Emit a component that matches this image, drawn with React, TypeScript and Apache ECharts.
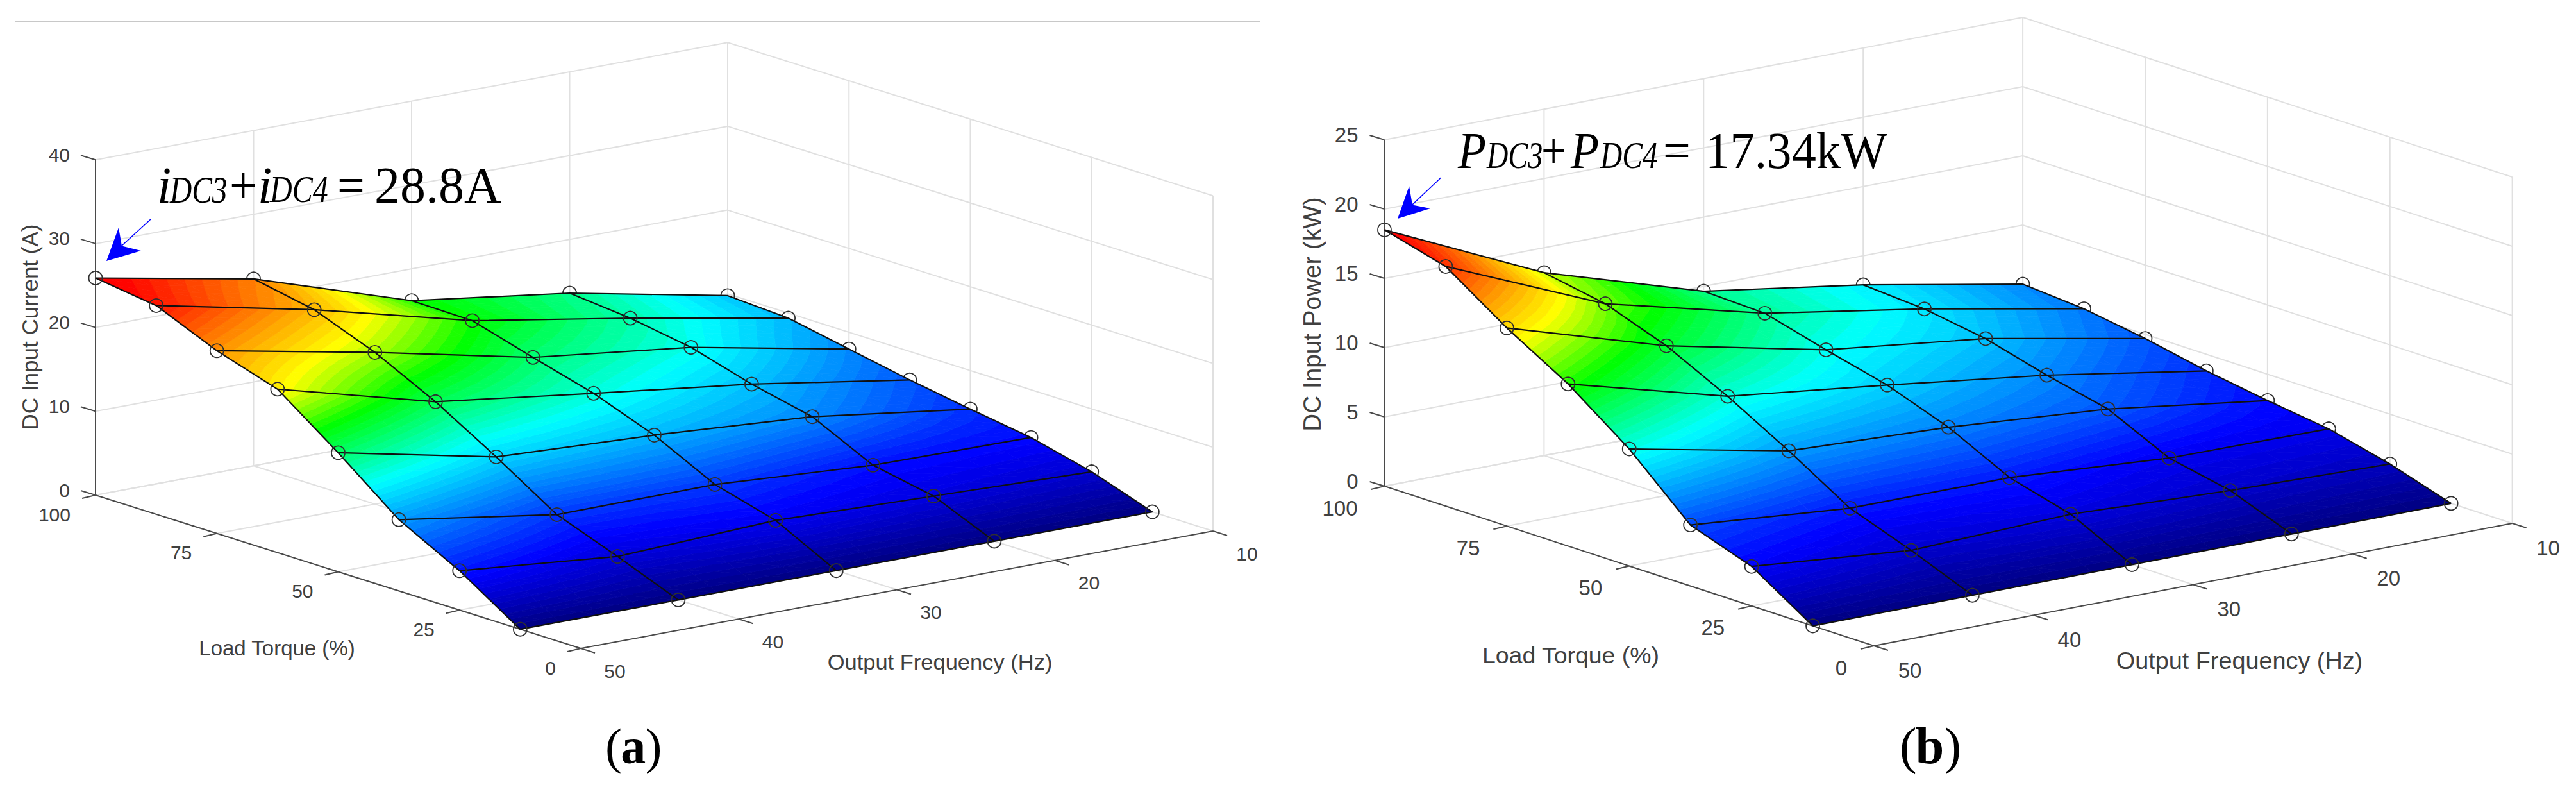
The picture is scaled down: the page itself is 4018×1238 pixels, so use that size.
import React, { useEffect, useRef } from "react";
import * as echarts from "echarts";

const W = 4018;
const H = 1238;

// ---- data ----
const frequencies = [50, 40, 30, 20, 10];
const torques = [100, 87.5, 75, 62.5, 50, 37.5, 25, 12.5];

const currentRows = [
  [25.9, 22.3, 16.2, 13.6, 9.8],
  [24.9, 20.9, 16.1, 12.9, 9.4],
  [21.8, 18.1, 14.0, 11.7, 8.0],
  [19.5, 14.5, 12.0, 9.6, 6.6],
  [14.2, 10.2, 9.3, 8.0, 5.4],
  [8.5, 5.6, 5.7, 4.5, 4.3],
  [4.7, 2.9, 3.7, 3.1, 2.5],
  [0, 0, 0, 0, 0],
];
const powerRows = [
  [18.5, 13.2, 9.65, 7.9, 5.74],
  [17.3, 12.4, 9.5, 7.6, 5.4],
  [14.3, 10.8, 8.3, 6.9, 4.7],
  [11.7, 8.6, 7.2, 5.7, 3.8],
  [8.45, 6.1, 5.6, 4.7, 3.1],
  [4.4, 3.4, 3.4, 2.6, 2.5],
  [2.85, 1.8, 2.2, 1.7, 1.4],
  [0, 0, 0, 0, 0],
];
const currentTicks = [0, 10, 20, 30, 40];
const powerTicks = [0, 5, 10, 15, 20, 25];
const freqTicks = [50, 40, 30, 20, 10];
const torqueTicks = [100, 75, 50, 25, 0];

// ---- layout of the two projected boxes ----
const panels = [
  {
    rows: currentRows,
    zTicks: currentTicks,
    zMax: 40,
    colorMax: 25.9,
    origin: [149, 772],
    fVec: [24.65, -4.575],
    tVec: [7.57, 2.39],
    zPer: 13.07,
    zTitle: "DC Input Current (A)",
    zTitlePos: [46, 510],
    zTitleSize: 35,
    tTitle: "Load Torque (%)",
    tTitlePos: [432, 1010],
    tTitleSize: 33,
    tTitleScale: 1.0,
    fTitle: "Output Frequency (Hz)",
    fTitlePos: [1466, 1032],
    fTitleSize: 33,
    fTitleScale: 1.045,
    tickSize: 30,
    zLabelOff: [-40, -8],
    tLabelOff: [-39, 30],
    fLabelOff: [53, 35],
    arrow: { from: [236, 341], to: [190, 383], head: [[166, 407], [185, 355], [190, 383.5], [220, 391]] },
    formula: [
      { s: "i", x: 245, size: 80, it: true, sx: 1 },
      { s: "DC3", x: 265, size: 60, it: true, sx: 0.79 },
      { s: "+", x: 358, size: 80, it: false, sx: 0.95 },
      { s: "i", x: 402, size: 80, it: true, sx: 1 },
      { s: "DC4", x: 421, size: 60, it: true, sx: 0.8 },
      { s: "=", x: 526, size: 80, it: false, sx: 0.95 },
      { s: "28.8A", x: 584, size: 80, it: false, sx: 1 },
    ],
    formulaBase: 316,
    caption: { x: 944, letter: "a", size: 78 },
  },
  {
    rows: powerRows,
    zTicks: powerTicks,
    zMax: 25,
    colorMax: 18.5,
    origin: [2159.5, 758],
    fVec: [24.89, -4.775],
    tVec: [7.635, 2.49],
    zPer: 21.6,
    zTitle: "DC Input Power (kW)",
    zTitlePos: [2046, 490],
    zTitleSize: 38.7,
    tTitle: "Load Torque (%)",
    tTitlePos: [2450, 1022],
    tTitleSize: 35,
    tTitleScale: 1.07,
    fTitle: "Output Frequency (Hz)",
    fTitlePos: [3493, 1031],
    fTitleSize: 36,
    fTitleScale: 1.05,
    tickSize: 33,
    zLabelOff: [-41, -8],
    tLabelOff: [-42, 34],
    fLabelOff: [56, 38],
    arrow: { from: [2247.5, 277], to: [2203, 319], head: [[2180, 341], [2198, 290], [2203, 319.5], [2231, 325]] },
    formula: [
      { s: "P", x: 2274, size: 80, it: true, sx: 0.9 },
      { s: "DC3", x: 2319, size: 60, it: true, sx: 0.77 },
      { s: "+", x: 2404, size: 80, it: false, sx: 0.85 },
      { s: "P", x: 2450, size: 80, it: true, sx: 0.9 },
      { s: "DC4", x: 2496, size: 60, it: true, sx: 0.79 },
      { s: "=", x: 2594, size: 80, it: false, sx: 0.95 },
      { s: "17.34kW", x: 2660, size: 80, it: false, sx: 0.96 },
    ],
    formulaBase: 262,
    caption: { x: 2963, letter: "b", size: 80 },
  },
];

const COLOR_LEVELS = 64;
const CELL_STEPS = 4;
const SANS = '"Liberation Sans", Arial, sans-serif';
const SERIF = '"Liberation Serif", "Times New Roman", serif';
const GRID_COLOR = "#e0e0e0";
const AXIS_COLOR = "#4a4a4a";
const TEXT_COLOR = "#404040";

// saturated rainbow seen on the surface: navy, blue, cyan, green, yellow, red
const rainbowStops: [number, number, number, number][] = [
  [0, 0, 0, 128],
  [0.16, 0, 0, 255],
  [0.44, 0, 255, 255],
  [0.62, 0, 255, 0],
  [0.74, 255, 255, 0],
  [0.98, 255, 0, 0],
  [1, 255, 0, 0],
];
function rainbow(t: number) {
  const v = Math.max(0, Math.min(1, t));
  for (let i = 1; i < rainbowStops.length; i++) {
    const a = rainbowStops[i - 1];
    const b = rainbowStops[i];
    if (v <= b[0]) {
      const k = (v - a[0]) / (b[0] - a[0]);
      return `rgb(${Math.round(a[1] + (b[1] - a[1]) * k)},${Math.round(a[2] + (b[2] - a[2]) * k)},${Math.round(a[3] + (b[3] - a[3]) * k)})`;
    }
  }
  return "rgb(255,0,0)";
}

type Panel = (typeof panels)[number];

function projector(p: Panel, api: any) {
  return (f: number, t: number, z: number) => {
    const dF = 50 - f;
    const dT = 100 - t;
    return api.coord([
      p.origin[0] + dF * p.fVec[0] + dT * p.tVec[0],
      p.origin[1] + dF * p.fVec[1] + dT * p.tVec[1] - z * p.zPer,
    ]);
  };
}

function line(a: number[], b: number[], stroke: string, lineWidth: number) {
  return { type: "line", shape: { x1: a[0], y1: a[1], x2: b[0], y2: b[1] }, style: { stroke, lineWidth } };
}

function text(s: string, x: number, y: number, font: string, fill: string, align: string, extra: any = {}) {
  return {
    type: "text",
    x,
    y,
    ...extra,
    style: { text: s, font, fill, align, verticalAlign: "middle", textAlign: align, textVerticalAlign: "middle" },
  };
}

// clip a polygon [x, y, z] to z >= lo and z <= hi
function clipBand(poly: number[][], lo: number, hi: number) {
  const clip = (pts: number[][], level: number, keepAbove: boolean) => {
    const out: number[][] = [];
    for (let i = 0; i < pts.length; i++) {
      const a = pts[i];
      const b = pts[(i + 1) % pts.length];
      const ain = keepAbove ? a[2] >= level : a[2] <= level;
      const bin = keepAbove ? b[2] >= level : b[2] <= level;
      if (ain) out.push(a);
      if (ain !== bin) {
        const k = (level - a[2]) / (b[2] - a[2]);
        out.push([a[0] + (b[0] - a[0]) * k, a[1] + (b[1] - a[1]) * k, level]);
      }
    }
    return out;
  };
  const first = clip(poly, lo, true);
  return first.length ? clip(first, hi, false) : first;
}

function wallSeries(p: Panel) {
  return {
    type: "custom",
    silent: true,
    data: [[0, 0]],
    renderItem: (_: any, api: any) => {
      const P = projector(p, api);
      const c: any[] = [];
      // back wall (torque = 100) and side wall (frequency = 10), floor
      for (const z of p.zTicks) {
        c.push(line(P(50, 100, z), P(10, 100, z), GRID_COLOR, 2));
        c.push(line(P(10, 100, z), P(10, 0, z), GRID_COLOR, 2));
      }
      for (const f of freqTicks) {
        if (f !== 50) c.push(line(P(f, 100, 0), P(f, 100, p.zMax), GRID_COLOR, 2));
        if (f !== 10) c.push(line(P(f, 100, 0), P(f, 0, 0), GRID_COLOR, 2));
      }
      for (const t of torqueTicks) {
        if (t !== 100) c.push(line(P(10, t, 0), P(10, t, p.zMax), GRID_COLOR, 2));
        if (t !== 0) c.push(line(P(50, t, 0), P(10, t, 0), GRID_COLOR, 2));
      }
      // axes
      c.push(line(P(50, 100, 0), P(50, 100, p.zMax), AXIS_COLOR, 2));
      c.push(line(P(50, 100, 0), P(50, 0, 0), AXIS_COLOR, 2));
      c.push(line(P(50, 0, 0), P(10, 0, 0), AXIS_COLOR, 2));
      const tickFont = `${p.tickSize}px ${SANS}`;
      for (const z of p.zTicks) {
        const a = P(50, 100, z);
        c.push(line(a, [a[0] - 23, a[1] - 7], AXIS_COLOR, 2));
        c.push(text(String(z), a[0] + p.zLabelOff[0], a[1] + p.zLabelOff[1], tickFont, TEXT_COLOR, "right"));
      }
      for (const t of torqueTicks) {
        const a = P(50, t, 0);
        c.push(line(a, [a[0] - 21, a[1] + 5], AXIS_COLOR, 2));
        c.push(text(String(t), a[0] + p.tLabelOff[0], a[1] + p.tLabelOff[1], tickFont, TEXT_COLOR, "right"));
      }
      for (const f of freqTicks) {
        const a = P(f, 0, 0);
        c.push(line(a, [a[0] + 22, a[1] + 7], AXIS_COLOR, 2));
        c.push(text(String(f), a[0] + p.fLabelOff[0], a[1] + p.fLabelOff[1], tickFont, TEXT_COLOR, "center"));
      }
      // axis titles
      c.push(text(p.zTitle, p.zTitlePos[0], p.zTitlePos[1], `${p.zTitleSize}px ${SANS}`, TEXT_COLOR, "center", { rotation: Math.PI / 2 }));
      c.push(text(p.tTitle, p.tTitlePos[0], p.tTitlePos[1], `${p.tTitleSize}px ${SANS}`, TEXT_COLOR, "center", { scaleX: p.tTitleScale }));
      c.push(text(p.fTitle, p.fTitlePos[0], p.fTitlePos[1], `${p.fTitleSize}px ${SANS}`, TEXT_COLOR, "center", { scaleX: p.fTitleScale }));
      return { type: "group", children: c };
    },
  };
}

function surfaceSeries(p: Panel) {
  const cells: number[][] = [];
  for (let i = 0; i < torques.length - 1; i++) {
    for (let j = 0; j < frequencies.length - 1; j++) cells.push([i, j]);
  }
  return {
    type: "custom",
    silent: true,
    data: cells,
    renderItem: (_: any, api: any) => {
      const P = projector(p, api);
      const i = api.value(0);
      const j = api.value(1);
      const z00 = p.rows[i][j];
      const z01 = p.rows[i][j + 1];
      const z10 = p.rows[i + 1][j];
      const z11 = p.rows[i + 1][j + 1];
      const at = (u: number, v: number) => {
        const z = (1 - u) * (1 - v) * z00 + (1 - u) * v * z01 + u * (1 - v) * z10 + u * v * z11;
        const f = frequencies[j] + (frequencies[j + 1] - frequencies[j]) * v;
        const t = torques[i] + (torques[i + 1] - torques[i]) * u;
        const q = P(f, t, z);
        return [q[0], q[1], z];
      };
      const step = p.colorMax / COLOR_LEVELS;
      const c: any[] = [];
      const addTri = (tri: number[][]) => {
        const zs = tri.map((q) => q[2]);
        const lo = Math.floor(Math.min(...zs) / step);
        const hi = Math.ceil(Math.max(...zs) / step);
        for (let k = lo; k < Math.max(hi, lo + 1); k++) {
          const poly = clipBand(tri, k * step, (k + 1) * step);
          if (poly.length < 3) continue;
          const col = rainbow((k + 0.5) / COLOR_LEVELS);
          c.push({
            type: "polygon",
            shape: { points: poly.map((q) => [q[0], q[1]]) },
            style: { fill: col, stroke: col, lineWidth: 0.8 },
          });
        }
      };
      for (let a = 0; a < CELL_STEPS; a++) {
        for (let b = 0; b < CELL_STEPS; b++) {
          const n = CELL_STEPS;
          const q00 = at(a / n, b / n);
          const q01 = at(a / n, (b + 1) / n);
          const q10 = at((a + 1) / n, b / n);
          const q11 = at((a + 1) / n, (b + 1) / n);
          addTri([q00, q01, q11]);
          addTri([q00, q11, q10]);
        }
      }
      return { type: "group", children: c };
    },
  };
}

function meshSeries(p: Panel) {
  return {
    type: "custom",
    silent: true,
    data: [[0, 0]],
    renderItem: (_: any, api: any) => {
      const P = projector(p, api);
      const c: any[] = [];
      const style = { stroke: "#101010", lineWidth: 2.2, fill: "none" };
      torques.forEach((t, i) => {
        c.push({ type: "polyline", shape: { points: frequencies.map((f, j) => P(f, t, p.rows[i][j])) }, style });
      });
      frequencies.forEach((f, j) => {
        c.push({ type: "polyline", shape: { points: torques.map((t, i) => P(f, t, p.rows[i][j])) }, style });
      });
      return { type: "group", children: c };
    },
  };
}

// the circles on the far edges sit half behind the surface
function isFarEdge(i: number, j: number) {
  const lastRow = torques.length - 1;
  if (i === lastRow || j === 0) return false;
  return i === 0 || j === frequencies.length - 1;
}

function markerSeries(p: Panel, behind: boolean) {
  const pts: number[][] = [];
  torques.forEach((_, i) =>
    frequencies.forEach((__, j) => {
      if (isFarEdge(i, j) === behind) pts.push([i, j]);
    })
  );
  return {
    type: "custom",
    silent: true,
    data: pts,
    renderItem: (_: any, api: any) => {
      const P = projector(p, api);
      const i = api.value(0);
      const j = api.value(1);
      const q = P(frequencies[j], torques[i], p.rows[i][j]);
      return {
        type: "circle",
        shape: { cx: q[0], cy: q[1], r: 10.5 },
        style: { fill: "none", stroke: "#303030", lineWidth: 1.8 },
      };
    },
  };
}

function serifPiece(s: string, x: number, base: number, size: number, italic: boolean, bold: boolean, sx: number) {
  const font = `${italic ? "italic " : ""}${bold ? "bold " : ""}${size}px ${SERIF}`;
  return text(s, x, base - 0.34 * size, font, "#000000", "left", { scaleX: sx });
}

function noteSeries(p: Panel) {
  return {
    type: "custom",
    silent: true,
    data: [[0, 0]],
    renderItem: (_: any, api: any) => {
      const c: any[] = [];
      const toPx = (q: number[]) => api.coord(q);
      c.push(line(toPx(p.arrow.from), toPx(p.arrow.to), "#0000ff", 1.6));
      c.push({ type: "polygon", shape: { points: p.arrow.head.map(toPx) }, style: { fill: "#0000ff" } });
      for (const f of p.formula) {
        c.push(serifPiece(f.s, f.x, p.formulaBase, f.size, f.it, false, f.sx));
      }
      const cap = p.caption;
      const capBase = 1190;
      c.push(serifPiece("(", cap.x, capBase, cap.size, false, false, 1));
      c.push(serifPiece(cap.letter, cap.x + cap.size * 0.31, capBase, cap.size, false, true, 1));
      c.push(serifPiece(")", cap.x + cap.size * (cap.letter === "a" ? 0.8 : 0.87), capBase, cap.size, false, false, 1));
      return { type: "group", children: c };
    },
  };
}

const topRule = {
  type: "custom",
  silent: true,
  data: [[0, 0]],
  renderItem: (_: any, api: any) => line(api.coord([24, 33]), api.coord([1966, 33]), "#c8c8c8", 2),
};

export default function App() {
  const ref = useRef<HTMLDivElement>(null);
  useEffect(() => {
    const chart = echarts.init(ref.current!, null, { renderer: "svg" });
    const series: any[] = [topRule];
    for (const p of panels) {
      series.push(wallSeries(p), markerSeries(p, true), surfaceSeries(p), meshSeries(p), markerSeries(p, false), noteSeries(p));
    }
    chart.setOption({
      animation: false,
      backgroundColor: "#ffffff",
      grid: { left: 0, right: 0, top: 0, bottom: 0 },
      xAxis: { type: "value", min: 0, max: W, show: false },
      yAxis: { type: "value", min: 0, max: H, inverse: true, show: false },
      series,
    });
    return () => chart.dispose();
  }, []);
  return <div ref={ref} style={{ position: "fixed", left: 0, top: 0, width: W, height: H }} />;
}
